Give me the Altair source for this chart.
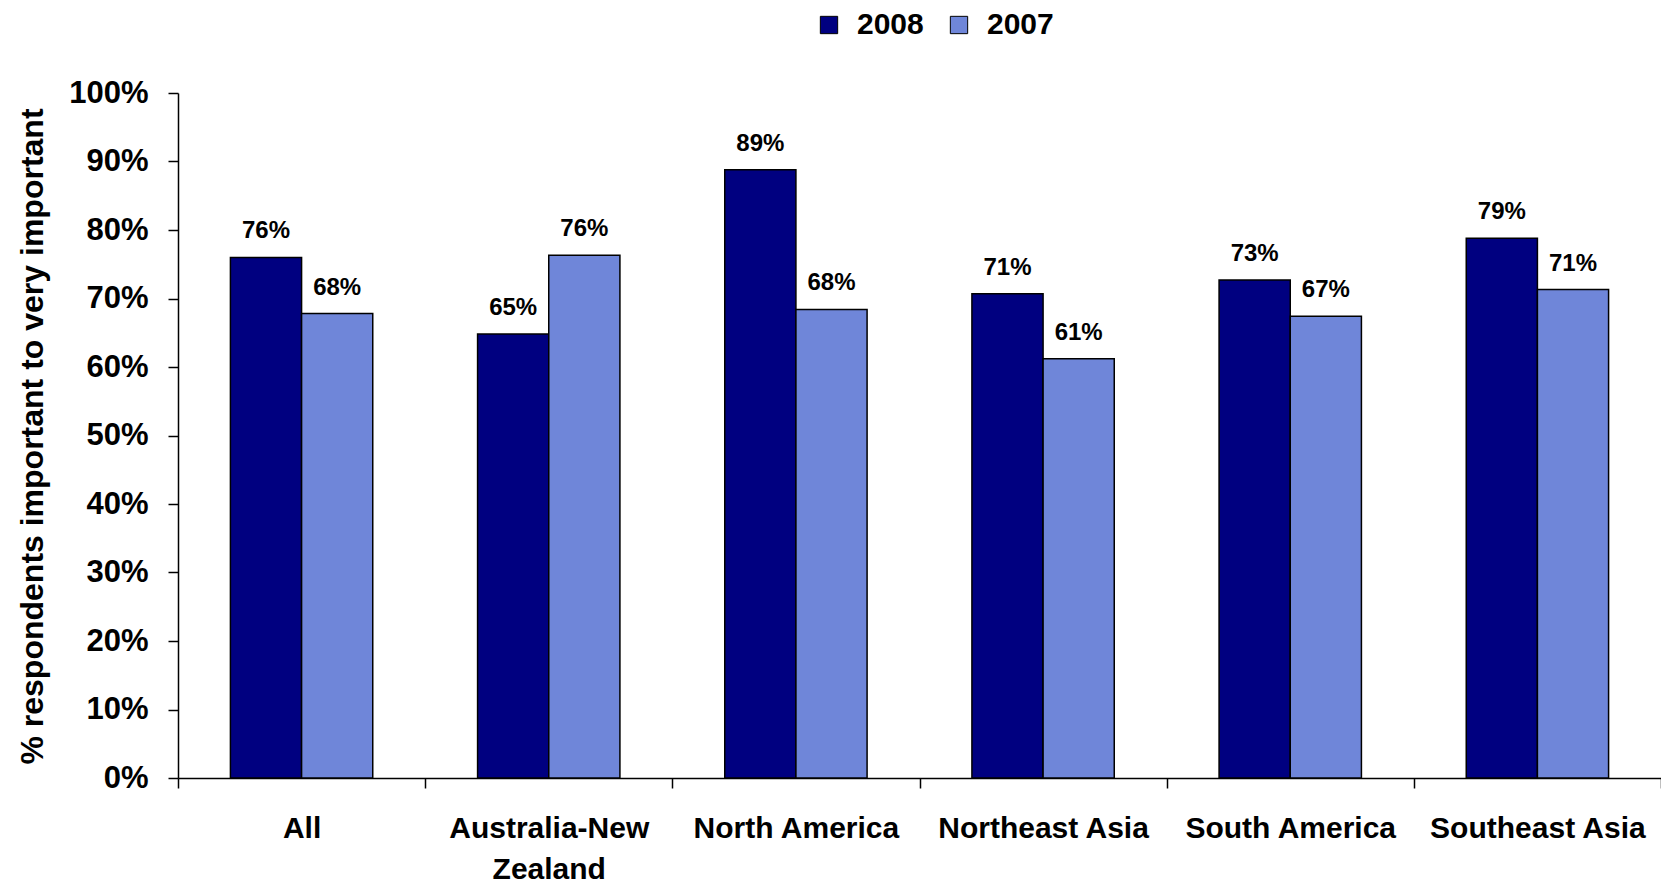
import altair as alt
import pandas as pd

categories = ["All", "Australia-New Zealand", "North America", "Northeast Asia", "South America", "Southeast Asia"]
values_2008 = [76.0, 64.8, 88.8, 70.7, 72.7, 78.8]
values_2007 = [67.8, 76.3, 68.4, 61.2, 67.4, 71.3]
series = ["2008", "2007"]
colors = ["#000080", "#6f86d9"]
y_ticks = [0, 10, 20, 30, 40, 50, 60, 70, 80, 90, 100]

rows = []
for i, c in enumerate(categories):
    rows.append({"region": c, "year": "2008", "value": values_2008[i]})
    rows.append({"region": c, "year": "2007", "value": values_2007[i]})
df = pd.DataFrame(rows)

FONT = "Liberation Sans"

x_enc = alt.X(
    "region:N", sort=categories,
    scale=alt.Scale(paddingInner=0, paddingOuter=0),
    axis=alt.Axis(
        title=None, tickBand="extent", labelAngle=0, labelFontSize=30, labelFont=FONT,
        labelFontWeight="bold", labelColor="black", labelPadding=25, labelLineHeight=41,
        labelLimit=500, labelOverlap=False,
        labelExpr="datum.label == 'Australia-New Zealand' ? ['Australia-New', 'Zealand'] : datum.label",
        domainColor="black", domainWidth=1.5, tickColor="black", tickWidth=1.5, tickSize=10,
        grid=False,
    ),
)
xoff_enc = alt.XOffset("year:N", sort=series, scale=alt.Scale(domain=series, paddingInner=0, paddingOuter=0.7365))
y_enc = alt.Y(
    "value:Q",
    scale=alt.Scale(domain=[0, 100], nice=False),
    axis=alt.Axis(
        values=y_ticks, labelExpr="datum.value + '%'",
        title="% respondents important to very important",
        titleFontSize=32, titleFont=FONT, titleFontWeight="bold", titleColor="black",
        titleX=-136, titleY=343, titleAngle=-90, titleAlign="center", titleBaseline="alphabetic",
        labelFontSize=31, labelFont=FONT, labelFontWeight="bold", labelColor="black",
        labelPadding=20, tickSize=10, tickColor="black", tickWidth=1.5,
        domainColor="black", domainWidth=1.5, grid=False,
    ),
)

base = alt.Chart(df).transform_calculate(label="format(datum.value, '.0f') + '%'")

bars = base.mark_bar(stroke="black", strokeWidth=1.5).encode(
    x=x_enc, xOffset=xoff_enc, y=y_enc,
    color=alt.Color(
        "year:N", sort=series,
        scale=alt.Scale(domain=series, range=colors),
        legend=alt.Legend(
            orient="none", legendX=636, legendY=-83, direction="horizontal", title=None,
            symbolType="square", symbolSize=300, symbolStrokeColor="black", symbolStrokeWidth=1,
            symbolOpacity=1,
            labelFontSize=30, labelFont=FONT, labelFontWeight="bold", labelColor="black",
            labelOffset=13, columnPadding=20, padding=0,
        ),
    ),
)

text = base.mark_text(dy=-19, fontSize=24, fontWeight="bold", font=FONT, color="black", baseline="alphabetic").encode(
    x=x_enc, xOffset=xoff_enc, y=y_enc, text="label:N"
)

chart = alt.layer(bars, text).properties(
    width=1483, height=685,
    autosize=alt.AutoSizeParams(type="none"),
    padding={"left": 170, "top": 85, "right": 0, "bottom": 112},
).configure_view(stroke=None)

chart.save("out.html", embed_options={"renderer": "svg", "actions": False})
